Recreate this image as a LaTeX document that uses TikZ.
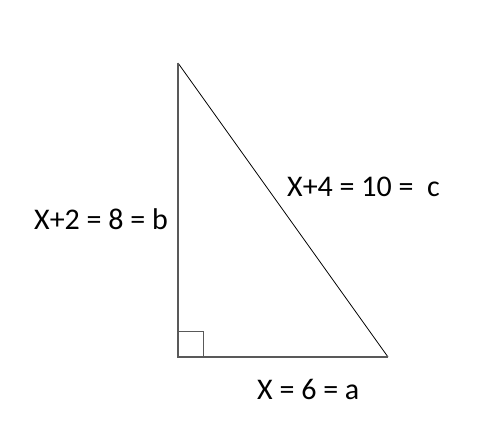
\documentclass[tikz,border=0pt]{standalone}
\usepackage{fontspec}
\setmainfont{Carlito}
\begin{document}
\begin{tikzpicture}[x=1pt,y=1pt,
  leg/.style={draw=black!65, line width=1.4pt},
  hyp/.style={draw=black, line width=0.8pt},
  lbl/.style={inner sep=0pt, anchor=base west, font=\fontsize{30}{36}\selectfont}]
\useasboundingbox (0,0) rectangle (483,424);
\coordinate (A) at (178,361);
\coordinate (C) at (178,67);
\coordinate (B) at (388,67);
\draw[hyp] (A) -- (B);
\draw[leg] (A) -- (C) -- (B);
\draw[leg, line width=1pt] (C) rectangle ++(25,25);
\node[lbl] (lb) at (34,194) {X+2 = 8 = b};
\node[lbl] (lc) at (287,227) {X+4 = 10 =~ c};
\node[lbl] (la) at (257,24) {X = 6 = a};
\end{tikzpicture}
\end{document}
